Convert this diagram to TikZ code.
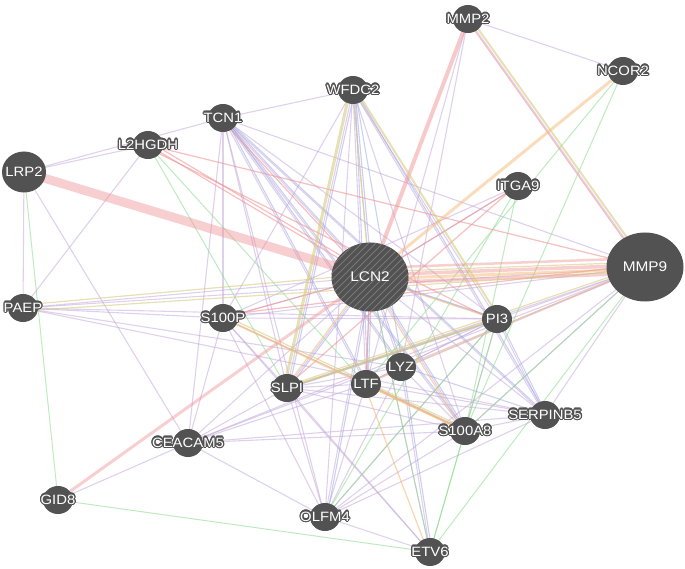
\documentclass[tikz,border=0pt]{standalone}
\usepackage{fontspec}
\setmainfont{Liberation Sans}[FakeStretch=1.1]
\usepackage{contour}
\contourlength{1.2pt}
\contournumber{16}
\usetikzlibrary{shapes.geometric}
\definecolor{nodegray}{RGB}{82,82,82}
\definecolor{hatchgray}{RGB}{120,120,120}
\definecolor{cCo}{RGB}{196,170,218}
\definecolor{cPh}{RGB}{240,148,150}
\definecolor{cPr}{RGB}{246,186,120}
\definecolor{cCl}{RGB}{150,162,222}
\definecolor{cGe}{RGB}{135,218,135}
\definecolor{cDo}{RGB}{214,204,130}
\pgfdeclarelayer{bg}
\pgfsetlayers{bg,main}
\tikzset{
  gnode/.style={ellipse, fill=nodegray, draw=none, minimum width=30pt, minimum height=28pt, inner sep=0pt},
  bignode/.style={ellipse, fill=nodegray, draw=none, minimum width=77pt, minimum height=69pt, inner sep=0pt},
  lab/.style={text=white, font=\fontsize{13.5}{13.5}\selectfont, inner sep=0pt},
  biglab/.style={text=white, font=\fontsize{14}{14}\selectfont, inner sep=0pt},
  coexp/.style={draw=cCo, line width=1.1pt, opacity=0.55},
  coloc/.style={draw=cCl, line width=1.1pt, opacity=0.5},
  phys/.style={draw=cPh, line width=1.2pt, opacity=0.6},
  pred/.style={draw=cPr, line width=1.2pt, opacity=0.6},
  dom/.style={draw=cDo, line width=1.2pt, opacity=0.6},
  gen/.style={draw=cGe, line width=1pt, opacity=0.55},
  hatchline/.style={draw=hatchgray, line width=0.9pt},
}
\begin{document}
\begin{tikzpicture}[x=1pt,y=-1pt]
\path[use as bounding box] (0,0) rectangle (685,569);
% nodes
\foreach \n/\x/\y in {MMP2/468/19, NCOR2/623/71, WFDC2/353/90, TCN1/223/118,
  L2HGDH/148/145, ITGA9/518/186, PAEP/23/308, S100P/223/318, PI3/497/319,
  LYZ/401/367, LTF/366/384, SLPI/287/388, SERPINB5/545/415, S100A8/465/431,
  CEACAM5/188/443, GID8/58/500, OLFM4/325/517, ETV6/430/552}
  \node[gnode, label={[lab]center:\contour{nodegray}{\n}}] (\n) at (\x,\y) {};
\node[gnode, minimum width=44pt, minimum height=41pt, label={[lab]center:\contour{nodegray}{LRP2}}] (LRP2) at (24,172) {};
\node[bignode] (LCN2) at (370,277) {};
\node[bignode] (MMP9) at (645,267) {};
\begin{scope}
  \clip (LCN2.center) ellipse (38.5 and 34.5);
  \foreach \k in {-84,-77,...,84}
    \draw[hatchline] ([xshift=\k]LCN2.center) ++(-45,45) -- ++(90,-90);
\end{scope}
\node[biglab] (LCN2t) at (LCN2.center) {LCN2};
\node[biglab] (MMP9t) at (MMP9.center) {MMP9};
% edges
\begin{pgfonlayer}{bg}
\foreach \a/\b in {LRP2/L2HGDH, LRP2/TCN1, LRP2/PAEP, LRP2/CEACAM5, L2HGDH/PAEP,
  TCN1/WFDC2, TCN1/LCN2, TCN1/LTF, TCN1/SLPI, TCN1/LYZ, TCN1/S100A8, TCN1/PI3,
  TCN1/OLFM4, TCN1/S100P, TCN1/CEACAM5, TCN1/MMP9, TCN1/SERPINB5,
  WFDC2/LCN2, WFDC2/LTF, WFDC2/PI3, WFDC2/S100A8, WFDC2/OLFM4, WFDC2/S100P, WFDC2/SLPI,
  MMP2/NCOR2, MMP2/LYZ, MMP2/MMP9, MMP2/LTF,
  LCN2/ITGA9, LCN2/PAEP, LCN2/S100P, LCN2/PI3, LCN2/LYZ, LCN2/LTF, LCN2/SLPI,
  LCN2/SERPINB5, LCN2/S100A8, LCN2/CEACAM5, LCN2/OLFM4, LCN2/ETV6,
  MMP9/PAEP, MMP9/PI3, MMP9/LTF, MMP9/SLPI, MMP9/S100P, MMP9/SERPINB5, MMP9/S100A8,
  MMP9/OLFM4, MMP9/CEACAM5, MMP9/LYZ,
  PAEP/PI3, PAEP/LYZ, PAEP/S100P, PAEP/SERPINB5, ITGA9/S100P,
  S100P/SLPI, S100P/CEACAM5, S100P/OLFM4, S100P/LTF, S100P/PI3, S100P/ETV6,
  PI3/LTF, PI3/SERPINB5, PI3/S100A8, PI3/OLFM4, PI3/CEACAM5, PI3/LYZ, PI3/SLPI,
  LYZ/LTF, LYZ/SLPI, LYZ/S100A8, LYZ/OLFM4, LTF/SLPI, LTF/SERPINB5, LTF/OLFM4,
  LTF/CEACAM5, LTF/S100A8, SLPI/S100A8, SLPI/SERPINB5, SLPI/OLFM4, SLPI/CEACAM5,
  SLPI/ETV6, SERPINB5/S100A8, SERPINB5/OLFM4, SERPINB5/CEACAM5, S100A8/OLFM4,
  S100A8/CEACAM5, CEACAM5/GID8, CEACAM5/OLFM4, OLFM4/ETV6, WFDC2/SERPINB5, LYZ/ETV6}
  \draw[coexp] (\a.center) -- (\b.center);
\foreach \a/\b in {TCN1/LCN2, TCN1/LTF, TCN1/LYZ, TCN1/S100A8, TCN1/SERPINB5,
  WFDC2/LCN2, WFDC2/SLPI, WFDC2/LTF, WFDC2/LYZ, WFDC2/SERPINB5, LCN2/PI3, LCN2/LYZ,
  LCN2/LTF, LCN2/SLPI, LCN2/S100A8, LCN2/OLFM4, PI3/SERPINB5, LYZ/SERPINB5,
  LYZ/ETV6, LTF/S100A8, SLPI/PI3}
  \draw[coloc] ([xshift=2pt]\a.center) -- ([xshift=2pt]\b.center);
\foreach \a/\b in {LRP2/GID8, GID8/ETV6, L2HGDH/SLPI, L2HGDH/LTF, NCOR2/S100A8,
  NCOR2/LTF, ITGA9/S100A8, ITGA9/OLFM4, MMP9/ETV6, MMP9/S100A8, S100A8/ETV6,
  PI3/ETV6, LCN2/ETV6, OLFM4/PI3}
  \draw[gen] (\a.center) -- (\b.center);
% thick physical interactions
\draw[phys, line width=9pt, opacity=0.45] (LRP2.center) -- (LCN2.center);
\draw[phys, line width=3.5pt, opacity=0.45] ([yshift=-6pt]LCN2.center) -- ([yshift=-6pt]MMP9.center);
\draw[phys, line width=3.5pt, opacity=0.45] ([yshift=2pt]LCN2.center) -- ([yshift=2pt]MMP9.center);
\draw[phys, line width=2.5pt, opacity=0.45] ([yshift=9pt]LCN2.center) -- ([yshift=9pt]MMP9.center);
\draw[phys, line width=4pt, opacity=0.5] (LCN2.center) -- (MMP2.center);
\draw[phys, line width=3pt, opacity=0.45] (LCN2.center) -- (GID8.center);
\foreach \a/\b/\s in {L2HGDH/LCN2/0, L2HGDH/LCN2/4, L2HGDH/PI3/-3, TCN1/LCN2/-3,
  ITGA9/LCN2/0, ITGA9/SLPI/2, MMP2/MMP9/-2, L2HGDH/MMP9/0, LCN2/S100P/0, LCN2/LTF/-3, MMP9/S100P/3}
  \draw[phys] ([yshift=\s pt]\a.center) -- ([yshift=\s pt]\b.center);
% predicted
\draw[pred, line width=3pt, opacity=0.5] (NCOR2.center) -- (LCN2.center);
\draw[pred, line width=3pt, opacity=0.5] ([yshift=-2pt]LCN2.center) -- ([yshift=-2pt]MMP9.center);
\draw[pred, line width=2pt] (S100P.center) -- (S100A8.center);
\draw[pred, line width=2pt] (LTF.center) -- (S100A8.center);
\foreach \a/\b in {LTF/ETV6, LCN2/SLPI, LCN2/S100A8, LCN2/PI3, MMP9/LTF}
  \draw[pred] ([xshift=-2pt]\a.center) -- ([xshift=-2pt]\b.center);
% shared domains
\draw[dom, line width=3pt] ([xshift=-3pt]WFDC2.center) -- ([xshift=-3pt]SLPI.center);
\draw[dom, line width=2pt] ([xshift=3pt]WFDC2.center) -- ([xshift=3pt]PI3.center);
\draw[dom, line width=2.5pt] (SLPI.center) -- (PI3.center);
\draw[dom, line width=2pt] ([xshift=3pt]MMP2.center) -- ([xshift=3pt]MMP9.center);
\foreach \a/\b/\s in {PAEP/MMP9/-3, PAEP/LCN2/3, S100P/S100A8/3, LCN2/MMP9/5, WFDC2/LCN2/-4, MMP9/SLPI/2}
  \draw[dom] ([yshift=\s pt]\a.center) -- ([yshift=\s pt]\b.center);
\end{pgfonlayer}
\end{tikzpicture}
\end{document}
